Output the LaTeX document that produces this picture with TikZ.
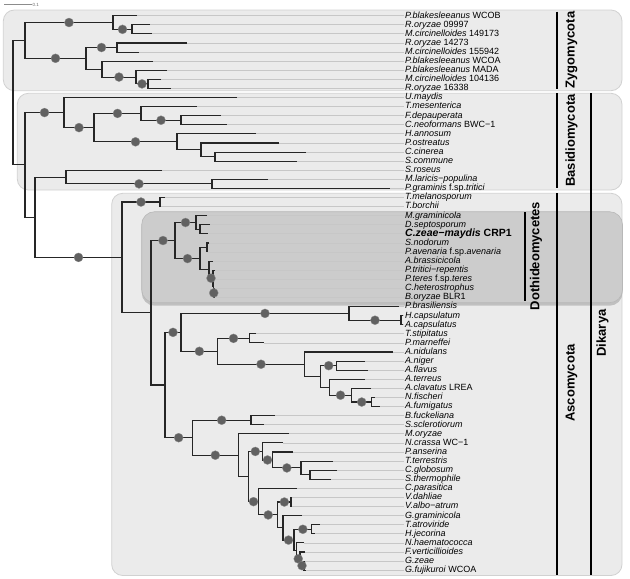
\documentclass[tikz,border=0pt]{standalone}
\usepackage{fontspec}
\setmainfont{Liberation Sans}
\usetikzlibrary{calc,shadows}

\newcommand{\clade}[4]{%
  \coordinate (#1x) at (#2,0);
  \coordinate (#1m) at ($(#3)!0.5!(#4)$);
  \coordinate (#1) at (#1x |- #1m);
  \draw[branch] (#3) -- (#1 |- #3) -- (#1 |- #4) -- (#4);
}

\begin{document}
\begin{tikzpicture}[x=1pt,y=-1pt,
  branch/.style={line width=1.1pt,black!85},
  tipline/.style={line width=0.8pt,black!22},
  bootdot/.style={fill=black!62,draw=black!45,line width=0.3pt},
  zone/.style={fill=black!8,draw=black!18,line width=0.8pt,rounded corners=11pt},
  dothzone/.style={fill=black!20,draw=black!28,line width=0.6pt,rounded corners=13pt,
    drop shadow={shadow xshift=0pt,shadow yshift=-3pt,fill=black!45,opacity=0.45}},
  bar/.style={line width=1.8pt},
  grp/.style={rotate=90,inner sep=0pt,font=\fontsize{13}{15}\selectfont\bfseries},
  leaflab/.style={anchor=west,inner sep=1pt,text height=6.5pt,text depth=1.8pt,
    font=\fontsize{9}{10}\selectfont}]
\useasboundingbox (0,0) rectangle (630,579);

\path[zone] (3.3,10) rectangle (622,90.7);
\path[zone] (17.3,93.3) rectangle (622,190);
\path[zone] (111.7,193.3) rectangle (622,575.5);
\path[dothzone] (141.7,211.7) rectangle (622.5,302.7);

\draw[black!45,line width=0.9pt] (4,4.7) coordinate (sb0) -- (32,4.7) coordinate (sb1);
\node[anchor=west,inner sep=0.5pt,black!60,font=\fontsize{4.5}{5}\selectfont] (sbl) at (sb1) {0.1};

\foreach \i/\tx/\lab in {
  0/137/{\textit{P.blakesleeanus} WCOB},
  1/150/{\textit{R.oryzae} 09997},
  2/152/{\textit{M.circinelloides} 149173},
  3/187/{\textit{R.oryzae} 14273},
  4/139/{\textit{M.circinelloides} 155942},
  5/153/{\textit{P.blakesleeanus} WCOA},
  6/167/{\textit{P.blakesleeanus} MADA},
  7/161/{\textit{M.circinelloides} 104136},
  8/171/{\textit{R.oryzae} 16338},
  9/237/{\textit{U.maydis}},
  10/197/{\textit{T.mesenterica}},
  11/221/{\textit{F.depauperata}},
  12/227/{\textit{C.neoformans} BWC−1},
  13/256/{\textit{H.annosum}},
  14/279/{\textit{P.ostreatus}},
  15/306/{\textit{C.cinerea}},
  16/297/{\textit{S.commune}},
  17/162/{\textit{S.roseus}},
  18/268/{\textit{M.laricis−populina}},
  19/390/{\textit{P.graminis} f.sp.\textit{tritici}},
  20/165/{\textit{T.melanosporum}},
  21/160/{\textit{T.borchii}},
  22/207/{\textit{M.graminicola}},
  23/210/{\textit{D.septosporum}},
  24/208/{\fontsize{10.5}{11}\selectfont\bfseries\textit{C.zeae−maydis} CRP1},
  25/209/{\textit{S.nodorum}},
  26/207/{\textit{P.avenaria} f.sp.\textit{avenaria}},
  27/213/{\textit{A.brassicicola}},
  28/215/{\textit{P.tritici−repentis}},
  29/215/{\textit{P.teres} f.sp.\textit{teres}},
  30/215/{\textit{C.heterostrophus}},
  31/215/{\textit{B.oryzae} BLR1},
  32/399/{\textit{P.brasiliensis}},
  33/403/{\textit{H.capsulatum}},
  34/403/{\textit{A.capsulatus}},
  35/256/{\textit{T.stipitatus}},
  36/264/{\textit{P.marneffei}},
  37/393/{\textit{A.nidulans}},
  38/365/{\textit{A.niger}},
  39/368/{\textit{A.flavus}},
  40/365/{\textit{A.terreus}},
  41/371/{\textit{A.clavatus} LREA},
  42/375/{\textit{N.fischeri}},
  43/380/{\textit{A.fumigatus}},
  44/275/{\textit{B.fuckeliana}},
  45/264/{\textit{S.sclerotiorum}},
  46/289/{\textit{M.oryzae}},
  47/283/{\textit{N.crassa} WC−1},
  48/293/{\textit{P.anserina}},
  49/333/{\textit{T.terrestris}},
  50/337/{\textit{C.globosum}},
  51/331/{\textit{S.thermophile}},
  52/297/{\textit{C.parasitica}},
  53/292/{\textit{V.dahliae}},
  54/292/{\textit{V.albo−atrum}},
  55/302/{\textit{G.graminicola}},
  56/320/{\textit{T.atroviride}},
  57/315/{\textit{H.jecorina}},
  58/304/{\textit{N.haematococca}},
  59/305/{\textit{F.verticillioides}},
  60/305/{\textit{G.zeae}},
  61/306/{\textit{G.fujikuroi} WCOA}}{
  \pgfmathsetmacro{\yy}{15.7+9.09*\i}
  \coordinate (l\i) at (\tx,\yy);
  \node[leaflab] (t\i) at (404,\yy) {\lab};
  \draw[tipline] (l\i) -- (t\i.west);
}

% Zygomycota
\clade{z8}{148}{l7}{l8}
\clade{z7}{136}{l6}{z8}
\clade{z6}{102}{l5}{z7}
\clade{z4}{117}{l3}{l4}
\clade{z3}{86}{z4}{z6}
\clade{z2}{132}{l1}{l2}
\clade{z1}{113}{l0}{z2}
\clade{zyg}{25}{z1}{z3}
% Basidiomycota
\clade{b12}{181}{l11}{l12}
\clade{b10}{141}{l10}{b12}
\clade{b16}{215}{l15}{l16}
\clade{b14}{201}{l14}{b16}
\clade{b13}{177}{l13}{b14}
\clade{b9}{94}{b10}{b13}
\clade{b8}{64}{l9}{b9}
\clade{b18}{212}{l18}{l19}
\clade{b17}{66}{l17}{b18}
% Ascomycota
\clade{a20}{160}{l20}{l21}
\clade{d23}{200}{l23}{l24}
\clade{d22}{196}{l22}{d23}
\clade{d25}{207}{l25}{l26}
\clade{d30}{214}{l30}{l31}
\clade{d29}{213.5}{l29}{d30}
\clade{d28}{213}{l28}{d29}
\clade{d27}{209}{l27}{d28}
\clade{d26}{200}{d25}{d27}
\clade{doth}{175}{d22}{d26}
\clade{e33}{401}{l33}{l34}
\clade{e32}{349}{l32}{e33}
\clade{e35}{249.3}{l35}{l36}
\clade{e38}{336.7}{l38}{l39}
\clade{e42}{371.7}{l42}{l43}
\clade{e41}{351.7}{l41}{e42}
\clade{e40}{329.3}{l40}{e41}
\clade{e39}{320.7}{e38}{e40}
\clade{e37}{304.3}{l37}{e39}
\clade{e36}{217.7}{e35}{e37}
\clade{eur}{181}{e32}{e36}
\clade{s44}{251}{l44}{l45}
\clade{s50}{310}{l50}{l51}
\clade{s49}{301}{l49}{s50}
\clade{s48}{272.7}{l48}{s49}
\clade{s47}{262.3}{l47}{s48}
\clade{s53}{291}{l53}{l54}
\clade{s60}{304}{l60}{l61}
\clade{s59}{300}{l59}{s60}
\clade{s58}{296.5}{l58}{s59}
\clade{s56}{311.7}{l56}{l57}
\clade{s57}{294}{s56}{s58}
\clade{s55}{283}{l55}{s57}
\clade{s54}{277.7}{s53}{s55}
\clade{s52}{258.7}{l52}{s54}
\clade{s51}{248.3}{s47}{s52}
\clade{s46}{238.3}{l46}{s51}
\clade{leo}{192.3}{s44}{s46}
\clade{pez}{165}{eur}{leo}
\clade{asl}{151}{doth}{pez}
\clade{asc}{122}{a20}{asl}
\clade{dik2}{35}{b17}{asc}
\clade{dik}{25}{b8}{dik2}
\clade{root}{13}{zyg}{dik}

\foreach \p/\c in {zyg/z1,z1/z2,zyg/z3,z3/z4,z6/z7,z7/z8,
  dik/b8,b8/b9,b9/b10,b10/b12,b9/b13,b17/b18,
  dik2/asc,asc/a20,asl/doth,doth/d22,doth/d26,d27/d28,d29/d30,
  pez/eur,eur/e32,e32/e33,eur/e36,e36/e35,e36/e37,e39/e38,e40/e41,e41/e42,
  pez/leo,leo/s44,leo/s46,s51/s47,s47/s48,s48/s49,s51/s52,s52/s54,s54/s53,
  s55/s57,s57/s56,s58/s59,s59/s60}
  \fill[bootdot] ($(\p |- \c)!0.5!(\c)$) circle (4.5pt);

\draw[bar] (557.3,11.7) -- (557.3,89);
\draw[bar] (557.3,93) -- (557.3,188);
\draw[bar] (557.3,193) -- (557.3,575);
\draw[bar] (590.7,93.3) -- (590.7,575);
\draw[bar] (525,212.3) -- (525,300.7);
\node[grp] (zygl) at (571.5,50) {Zygomycota};
\node[grp] (basl) at (571.5,140.5) {Basidiomycota};
\node[grp] (ascl) at (571.5,383) {Ascomycota};
\node[grp] (dikl) at (602.5,333) {Dikarya};
\node[grp] (dotl) at (536,256) {Dothideomycetes};
\end{tikzpicture}
\end{document}
